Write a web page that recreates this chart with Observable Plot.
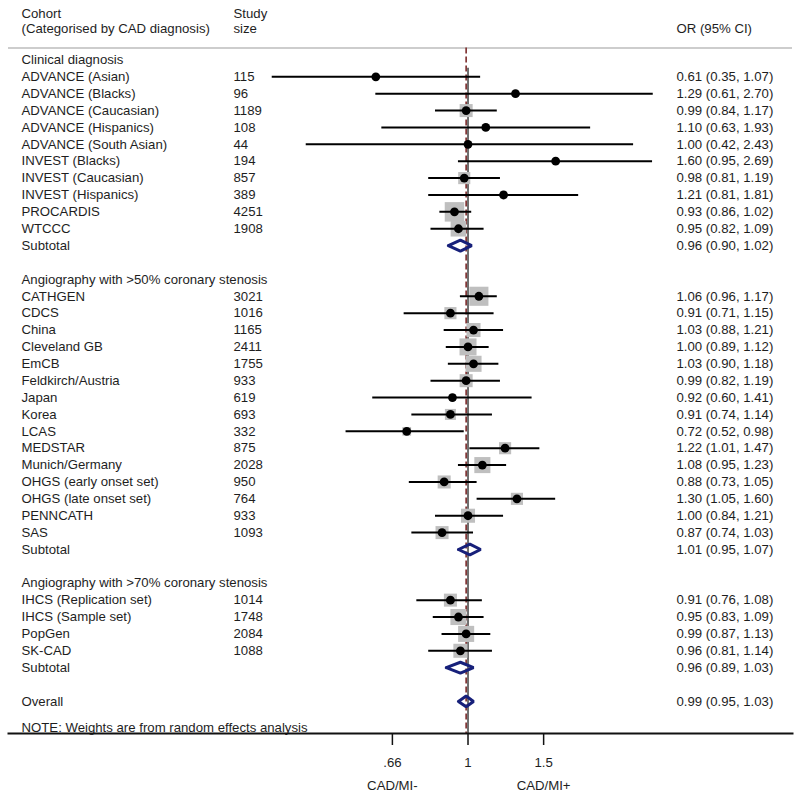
<!DOCTYPE html>
<html>
<head>
<meta charset="utf-8">
<script src="https://cdn.jsdelivr.net/npm/d3@7"></script>
<script src="https://cdn.jsdelivr.net/npm/@observablehq/plot@0.6"></script>
<style>
  html, body { margin: 0; padding: 0; background: #fff; }
  #chart svg { display: block; }
</style>
</head>
<body>
<div id="chart"></div>
<script>
// ---------- data ----------
const groupNames = [
  "Clinical diagnosis",
  "Angiography with >50% coronary stenosis",
  "Angiography with >70% coronary stenosis"
];
const cohorts = [
  "ADVANCE (Asian)", "ADVANCE (Blacks)", "ADVANCE (Caucasian)", "ADVANCE (Hispanics)",
  "ADVANCE (South Asian)", "INVEST (Blacks)", "INVEST (Caucasian)", "INVEST (Hispanics)",
  "PROCARDIS", "WTCCC",
  "CATHGEN", "CDCS", "China", "Cleveland GB", "EmCB", "Feldkirch/Austria", "Japan", "Korea",
  "LCAS", "MEDSTAR", "Munich/Germany", "OHGS (early onset set)", "OHGS (late onset set)",
  "PENNCATH", "SAS",
  "IHCS (Replication set)", "IHCS (Sample set)", "PopGen", "SK-CAD"
];
const cohortGroup = [0,0,0,0,0,0,0,0,0,0, 1,1,1,1,1,1,1,1,1,1,1,1,1,1,1, 2,2,2,2];
const studySize = [115, 96, 1189, 108, 44, 194, 857, 389, 4251, 1908,
  3021, 1016, 1165, 2411, 1755, 933, 619, 693, 332, 875, 2028, 950, 764, 933, 1093,
  1014, 1748, 2084, 1088];
const oddsRatio = [0.61, 1.29, 0.99, 1.10, 1.00, 1.60, 0.98, 1.21, 0.93, 0.95,
  1.06, 0.91, 1.03, 1.00, 1.03, 0.99, 0.92, 0.91, 0.72, 1.22, 1.08, 0.88, 1.30, 1.00, 0.87,
  0.91, 0.95, 0.99, 0.96];
const ciLower = [0.35, 0.61, 0.84, 0.63, 0.42, 0.95, 0.81, 0.81, 0.86, 0.82,
  0.96, 0.71, 0.88, 0.89, 0.90, 0.82, 0.60, 0.74, 0.52, 1.01, 0.95, 0.73, 1.05, 0.84, 0.74,
  0.76, 0.83, 0.87, 0.81];
const ciUpper = [1.07, 2.70, 1.17, 1.93, 2.43, 2.69, 1.19, 1.81, 1.02, 1.09,
  1.17, 1.15, 1.21, 1.12, 1.18, 1.19, 1.41, 1.14, 0.98, 1.47, 1.23, 1.05, 1.60, 1.21, 1.03,
  1.08, 1.09, 1.13, 1.14];
// random-effects weights (%)
const weight = [0.5, 0.3, 3.35, 0.5, 0.2, 0.6, 2.9, 1.0, 7.5, 4.8,
  7.2, 2.9, 3.9, 5.7, 5.1, 3.35, 0.9, 2.4, 1.5, 2.9, 5.1, 3.35, 2.9, 3.9, 3.35,
  3.35, 5.1, 5.1, 3.9];
const subtotalOR = [0.96, 1.01, 0.96];
const subtotalLower = [0.90, 0.95, 0.89];
const subtotalUpper = [1.02, 1.07, 1.03];
const overallOR = 0.99, overallLower = 0.95, overallUpper = 1.03;

const tickValues = [1 / 1.5, 1, 1.5];
const tickLabels = [".66", "1", "1.5"];
const sideLabels = ["CAD/MI-", "CAD/MI+"];
const sideAt = [1 / 1.5, 1.5];
const noteText = "NOTE: Weights are from random effects analysis";

// ---------- build row layout ----------
const fmt = (o, l, u) => `${o.toFixed(2)} (${l.toFixed(2)}, ${u.toFixed(2)})`;
const textRows = [];
const studies = [];
const diamonds = [];
let row = 0;
groupNames.forEach((g, gi) => {
  textRows.push({row, label: g});
  row++;
  cohorts.forEach((c, i) => {
    if (cohortGroup[i] !== gi) return;
    studies.push({row, label: c, or: oddsRatio[i], lo: ciLower[i], hi: ciUpper[i], w: weight[i]});
    textRows.push({row, label: c, size: String(studySize[i]), est: fmt(oddsRatio[i], ciLower[i], ciUpper[i])});
    row++;
  });
  diamonds.push({id: "g" + gi, row, or: subtotalOR[gi], lo: subtotalLower[gi], hi: subtotalUpper[gi]});
  textRows.push({row, label: "Subtotal", est: fmt(subtotalOR[gi], subtotalLower[gi], subtotalUpper[gi])});
  row += 2;
});
diamonds.push({id: "overall", row, or: overallOR, lo: overallLower, hi: overallUpper});
textRows.push({row, label: "Overall", est: fmt(overallOR, overallLower, overallUpper)});
const noteRow = row + 1.55;

const dh = 0.32;
const diamondPts = diamonds.flatMap(d => [
  {id: d.id, x: d.lo, y: d.row},
  {id: d.id, x: d.or, y: d.row - dh},
  {id: d.id, x: d.hi, y: d.row},
  {id: d.id, x: d.or, y: d.row + dh},
  {id: d.id, x: d.lo, y: d.row}
]);

const tickLabelOf = v => tickLabels[tickValues.findIndex(t => Math.abs(t - v) < 1e-6)] ?? "";

const headerRow1 = -2.75, headerRow2 = -1.82, topRuleRow = -0.7, axisRow = 39.9;
const txt = "#1e1e1e";
const fs = 13.2;
const left = (data, opts) => Plot.text(data, {frameAnchor: "left", textAnchor: "start", fill: txt, fontSize: fs, ...opts});

const chart = Plot.plot({
  width: 800,
  height: 799,
  marginLeft: 8,
  marginRight: 8,
  marginTop: 0,
  marginBottom: 66,
  x: {type: "log", domain: [0.0851, 5.697], label: null},
  y: {domain: [-3.52, axisRow], reverse: true, axis: null},
  r: {type: "sqrt", domain: [0, 7.5], range: [0, 11]},
  style: {fontFamily: "'Liberation Sans', Arial, Helvetica, sans-serif", fontSize: "13px", background: "#fff", color: txt},
  marks: [
    // header
    left(["Cohort"], {y: [headerRow1], text: d => d, dx: 13}),
    left(["(Categorised by CAD diagnosis)"], {y: [headerRow2], text: d => d, dx: 13}),
    left(["Study"], {y: [headerRow1], text: d => d, dx: 225}),
    left(["size"], {y: [headerRow2], text: d => d, dx: 225}),
    left(["OR (95% CI)"], {y: [headerRow2], text: d => d, dx: 668}),
    Plot.ruleY([topRuleRow], {stroke: "#bdbdbd", strokeWidth: 1.5}),
    // reference lines
    Plot.ruleX([overallOR], {y1: topRuleRow, y2: axisRow, stroke: "#7b2b2b", strokeWidth: 1.6, strokeDasharray: "6,3"}),
    Plot.ruleX([1], {y1: 0.5, y2: axisRow, stroke: "#111", strokeWidth: 1.2}),
    // weight boxes
    Plot.dot(studies, {x: "or", y: "row", r: "w", symbol: "square", fill: "#bfbfbf", stroke: null}),
    // CIs
    Plot.ruleY(studies, {y: "row", x1: "lo", x2: "hi", stroke: "#000", strokeWidth: 2}),
    Plot.dot(studies, {x: "or", y: "row", r: 4.4, fill: "#000"}),
    // diamonds
    Plot.line(diamondPts, {x: "x", y: "y", z: "id", stroke: "#17207a", strokeWidth: 3, strokeLinejoin: "miter"}),
    // text columns
    left(textRows, {y: "row", text: "label", dx: 13}),
    left(textRows.filter(d => d.size), {y: "row", text: "size", dx: 225}),
    left(textRows.filter(d => d.est), {y: "row", text: "est", dx: 668}),
    left([noteText], {y: [noteRow], text: d => d, dx: 13}),
    // axis
    Plot.frame({anchor: "bottom", stroke: "#111", strokeWidth: 2}),
    Plot.axisX({ticks: tickValues, tickFormat: tickLabelOf, tickSize: 12, tickPadding: 12, fontSize: fs, stroke: "#111", strokeWidth: 1.5, label: null}),
    Plot.text(sideLabels, {x: sideAt, text: d => d, frameAnchor: "bottom", dy: 56, fill: txt, fontSize: fs})
  ]
});
document.getElementById("chart").appendChild(chart);
</script>
</body>
</html>
